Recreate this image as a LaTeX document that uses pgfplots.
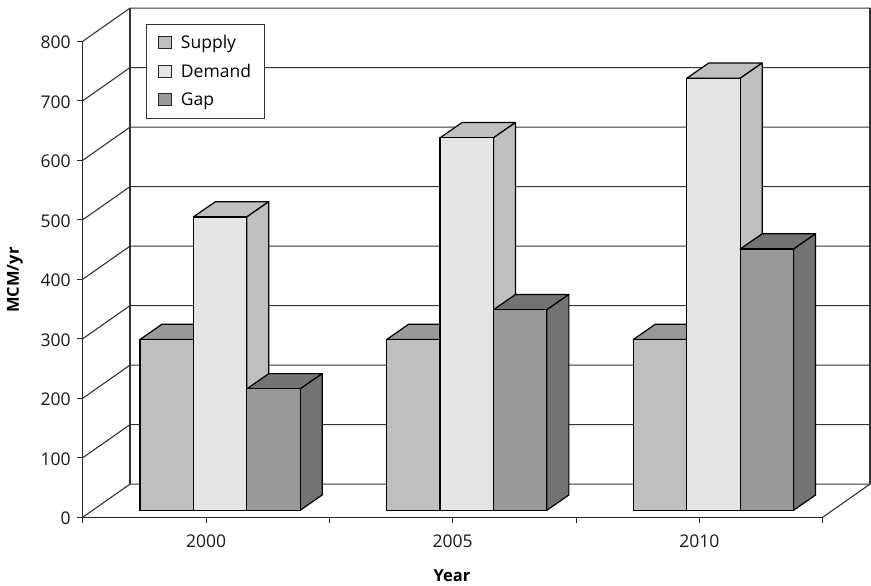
\documentclass[border=0pt]{standalone}
\usepackage{fontspec}
\setmainfont{Open Sans}
\usepackage{pgfplots}
\pgfplotsset{compat=1.18}

\definecolor{supplyfront}{HTML}{BFBFBF}
\definecolor{supplyshade}{HTML}{999999}
\definecolor{demandfront}{HTML}{E5E5E5}
\definecolor{demandshade}{HTML}{BFBFBF}
\definecolor{gapfront}{HTML}{999999}
\definecolor{gapshade}{HTML}{737373}
\definecolor{wall}{HTML}{333333}

% One block of the chart: left edge, value, front colour, shade colour.
% The block stands on the floor and recedes up and to the right.
\newcommand{\block}[4]{%
  \pgfmathsetmacro{\xa}{#1}%
  \pgfmathsetmacro{\xb}{#1+0.2165}%
  \pgfmathsetmacro{\xc}{#1+0.0892}%
  \pgfmathsetmacro{\xd}{#1+0.2165+0.0892}%
  \pgfmathsetmacro{\ya}{11.8}%
  \pgfmathsetmacro{\yb}{#2+11.8}%
  \pgfmathsetmacro{\yc}{#2+11.8+25.7}%
  \pgfmathsetmacro{\ye}{11.8+25.7}%
  \addplot[forget plot,draw=black,line width=1.2pt,fill=#4,line join=round] coordinates
    {(\xa,\yb)(\xc,\yc)(\xd,\yc)(\xb,\yb)} -- cycle;
  \addplot[forget plot,draw=black,line width=1.2pt,fill=#4,line join=round] coordinates
    {(\xb,\ya)(\xd,\ye)(\xd,\yc)(\xb,\yb)} -- cycle;
  \addplot[forget plot,draw=black,line width=1.2pt,fill=#3,line join=round] coordinates
    {(\xa,\ya)(\xb,\ya)(\xb,\yb)(\xa,\yb)} -- cycle;
}

\begin{document}
\begin{tikzpicture}
\begin{axis}[
  scale only axis,
  width=740pt, height=476pt,
  xmin=-0.5, xmax=2.5, ymin=0, ymax=800,
  clip=false,
  axis x line=bottom, axis y line=left,
  axis line style={-,line width=1pt,black!85},
  tick align=outside,
  major tick length=5.5pt,
  tick style={line width=1pt,black!85},
  xtick={-0.5,0,0.5,1,1.5,2,2.5},
  xticklabels={,2000,,2005,,2010,},
  ytick={0,100,...,800},
  /pgf/number format/assume math mode=true,
  /pgf/number format/1000 sep={},
  tick label style={font=\fontsize{17.5}{20}\selectfont,text=black!90},
  yticklabel style={xshift=-3pt,yshift=-1pt},
  xticklabel style={yshift=-8pt},
  every axis x label/.style={at={(axis description cs:0.499,-0.122)},anchor=center},
  every axis y label/.style={at={(axis description cs:-0.0915,0.4985)},anchor=center,rotate=90},
  label style={font=\fontsize{16.5}{20}\selectfont\bfseries},
  xlabel={Year}, ylabel={MCM/yr},
  legend cell align=left,
  legend style={
    at={(0.0855,1.0364)}, anchor=north west,
    draw=black!80, line width=1pt, fill=white,
    font=\fontsize{17.5}{20}\selectfont,
    row sep=10.9pt, inner xsep=12pt, inner ysep=9.5pt,
    nodes={inner sep=1.5pt},
  },
]
% Back wall, side wall and floor of the chart box
\pgfplotsinvokeforeach{0,100,...,800}{
  \pgfmathsetmacro{\ytop}{#1+55.8}
  \addplot[forget plot,draw=wall,line width=1.1pt] coordinates
    {(-0.5,#1)(-0.3082,\ytop)(2.6918,\ytop)};
}
\addplot[forget plot,draw=wall,line width=1.1pt] coordinates {(-0.3082,55.8)(-0.3082,855.8)};
\addplot[forget plot,draw=wall,line width=1.1pt] coordinates {(2.6918,55.8)(2.6918,855.8)};
\addplot[forget plot,draw=wall,line width=1.1pt] coordinates {(2.5,0)(2.6918,55.8)};

% Year 2000
\block{-0.2677}{287}{supplyfront}{supplyshade}
\block{-0.0512}{493}{demandfront}{demandshade}
\block{0.1653}{204}{gapfront}{gapshade}
% Year 2005
\block{0.7323}{287}{supplyfront}{supplyshade}
\block{0.9488}{626}{demandfront}{demandshade}
\block{1.1653}{337}{gapfront}{gapshade}
% Year 2010
\block{1.7323}{287}{supplyfront}{supplyshade}
\block{1.9488}{726}{demandfront}{demandshade}
\block{2.1653}{439}{gapfront}{gapshade}

% Legend swatches, with a little blank room before the entry text
\pgfplotsset{
  legend image code/.code={
    \path[draw=none,fill=none] (0pt,0pt) -- (20.5pt,0pt);
    \draw[#1,draw=black!85,line width=1pt] (0pt,-6pt) rectangle (12.5pt,6.5pt);
  },
}
\addlegendimage{fill=supplyfront}
\addlegendentry{Supply}
\addlegendimage{fill=demandfront}
\addlegendentry{Demand}
\addlegendimage{fill=gapfront}
\addlegendentry{Gap}
\end{axis}
\pgfresetboundingbox
\path[use as bounding box] (-82.7pt,-68.7pt) rectangle (788.3pt,517.3pt);
\end{tikzpicture}
\end{document}
